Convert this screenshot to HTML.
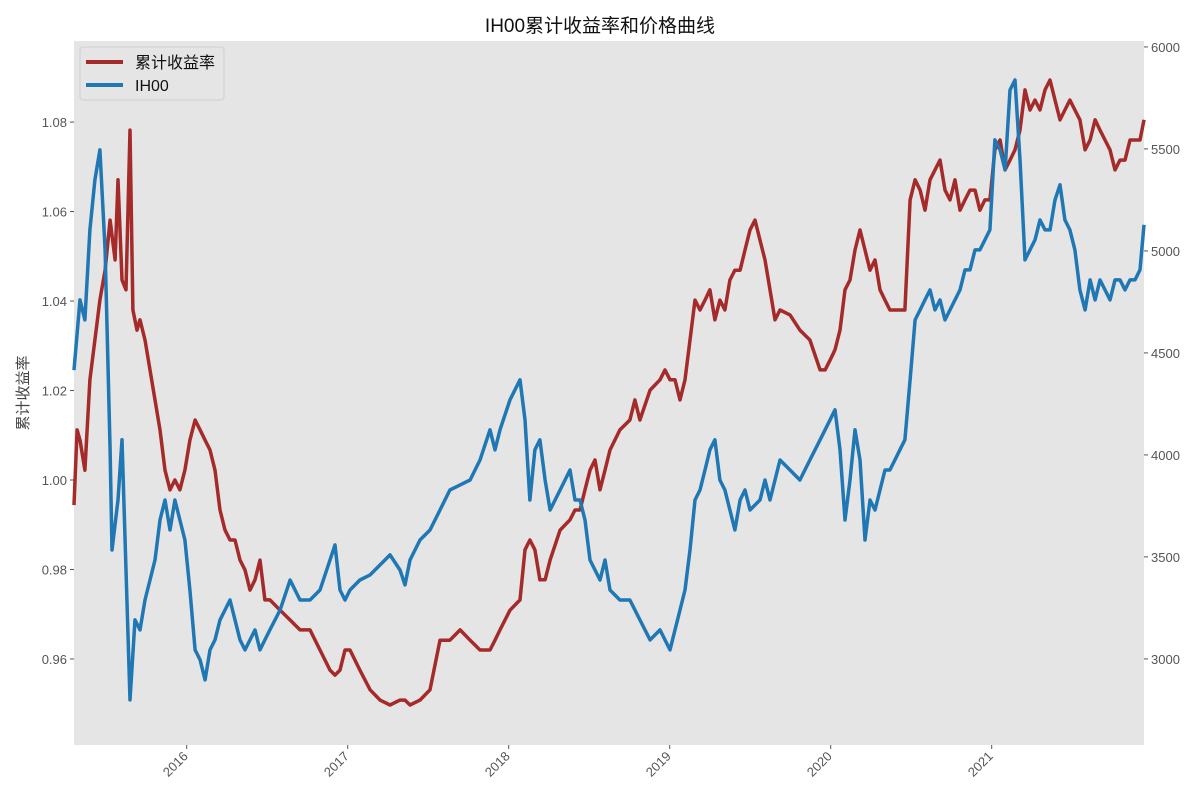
<!DOCTYPE html>
<html><head><meta charset="utf-8"><style>
body{margin:0;background:#fff;}
svg{display:block;font-family:"Liberation Sans","Noto Sans CJK SC",sans-serif;}
</style></head><body>
<svg id="chart" width="1200" height="800" xmlns="http://www.w3.org/2000/svg">
<rect x="74" y="41" width="1070" height="704" fill="#e5e5e5"/>
<text x="600" y="32" text-anchor="middle" font-size="19" fill="#111">IH00累计收益率和价格曲线</text>
<text transform="translate(28,393) rotate(-90)" text-anchor="middle" font-size="15" fill="#444">累计收益率</text>
<g id="axes"></g>
<g id="lines"></g>
<g>
<rect x="80" y="47" width="144" height="53" rx="3" fill="#e5e5e5" stroke="#cfcfcf"/>
<line x1="86" y1="62" x2="123" y2="62" stroke="#a52a2a" stroke-width="4"/>
<text x="135" y="68" font-size="16" fill="#111">累计收益率</text>
<line x1="86" y1="85" x2="123" y2="85" stroke="#1f77b4" stroke-width="4"/>
<text x="135" y="91" font-size="16" fill="#111">IH00</text>
</g>
</svg>
<script>
const leftTicks=[0.96,0.98,1.00,1.02,1.04,1.06,1.08];
const rightTicks=[3000,3500,4000,4500,5000,5500,6000];
const yearTicks=[2016,2017,2018,2019,2020,2021];
const retT=[2015.300,2015.319,2015.337,2015.368,2015.399,2015.430,2015.461,2015.493,2015.524,2015.555,2015.573,2015.598,2015.623,2015.648,2015.666,2015.691,2015.710,2015.741,2015.772,2015.803,2015.834,2015.865,2015.896,2015.927,2015.958,2015.989,2016.020,2016.052,2016.083,2016.114,2016.145,2016.176,2016.207,2016.238,2016.269,2016.300,2016.331,2016.362,2016.393,2016.424,2016.455,2016.486,2016.517,2016.580,2016.642,2016.704,2016.766,2016.828,2016.890,2016.921,2016.952,2016.983,2017.014,2017.076,2017.139,2017.201,2017.263,2017.325,2017.356,2017.387,2017.449,2017.511,2017.573,2017.635,2017.698,2017.760,2017.822,2017.884,2017.915,2017.946,2018.008,2018.070,2018.101,2018.132,2018.163,2018.194,2018.226,2018.257,2018.319,2018.381,2018.412,2018.443,2018.474,2018.505,2018.536,2018.567,2018.598,2018.629,2018.691,2018.753,2018.784,2018.815,2018.878,2018.940,2018.971,2019.002,2019.033,2019.064,2019.095,2019.126,2019.157,2019.188,2019.219,2019.250,2019.281,2019.312,2019.343,2019.374,2019.405,2019.437,2019.468,2019.499,2019.530,2019.561,2019.592,2019.623,2019.654,2019.685,2019.747,2019.809,2019.871,2019.934,2019.965,2019.996,2020.027,2020.058,2020.089,2020.120,2020.151,2020.182,2020.213,2020.244,2020.275,2020.306,2020.337,2020.368,2020.399,2020.430,2020.461,2020.493,2020.524,2020.555,2020.586,2020.617,2020.648,2020.679,2020.710,2020.741,2020.772,2020.803,2020.834,2020.865,2020.896,2020.927,2020.958,2020.989,2021.020,2021.052,2021.083,2021.114,2021.145,2021.176,2021.207,2021.238,2021.269,2021.300,2021.331,2021.362,2021.393,2021.424,2021.455,2021.486,2021.517,2021.548,2021.580,2021.611,2021.642,2021.673,2021.704,2021.735,2021.766,2021.797,2021.828,2021.859,2021.890,2021.921,2021.946];
const retV=[0.9944,1.0112,1.0089,1.0022,1.0224,1.0313,1.0402,1.0469,1.0581,1.0492,1.0671,1.0447,1.0425,1.0782,1.0380,1.0335,1.0358,1.0313,1.0246,1.0179,1.0112,1.0022,0.9978,1.0000,0.9978,1.0022,1.0089,1.0134,1.0112,1.0089,1.0067,1.0022,0.9933,0.9888,0.9866,0.9866,0.9821,0.9799,0.9754,0.9777,0.9821,0.9732,0.9732,0.9709,0.9687,0.9665,0.9665,0.9620,0.9575,0.9564,0.9575,0.9620,0.9620,0.9575,0.9531,0.9508,0.9497,0.9508,0.9508,0.9497,0.9508,0.9531,0.9642,0.9642,0.9665,0.9642,0.9620,0.9620,0.9642,0.9665,0.9709,0.9732,0.9844,0.9866,0.9844,0.9777,0.9777,0.9821,0.9888,0.9911,0.9933,0.9933,0.9978,1.0022,1.0045,0.9978,1.0022,1.0067,1.0112,1.0134,1.0179,1.0134,1.0201,1.0224,1.0246,1.0224,1.0224,1.0179,1.0224,1.0313,1.0402,1.0380,1.0402,1.0425,1.0358,1.0402,1.0380,1.0447,1.0469,1.0469,1.0514,1.0559,1.0581,1.0536,1.0492,1.0425,1.0358,1.0380,1.0369,1.0335,1.0313,1.0246,1.0246,1.0268,1.0291,1.0335,1.0425,1.0447,1.0514,1.0559,1.0514,1.0469,1.0492,1.0425,1.0402,1.0380,1.0380,1.0380,1.0380,1.0626,1.0671,1.0648,1.0603,1.0671,1.0693,1.0715,1.0648,1.0626,1.0671,1.0603,1.0626,1.0648,1.0648,1.0603,1.0626,1.0626,1.0738,1.0760,1.0693,1.0715,1.0738,1.0782,1.0872,1.0827,1.0849,1.0827,1.0872,1.0894,1.0849,1.0805,1.0827,1.0849,1.0827,1.0805,1.0738,1.0760,1.0805,1.0782,1.0760,1.0738,1.0693,1.0715,1.0715,1.0760,1.0760,1.0760,1.0805];
const pxT=[2015.300,2015.337,2015.368,2015.399,2015.430,2015.461,2015.493,2015.524,2015.536,2015.573,2015.598,2015.623,2015.648,2015.679,2015.710,2015.741,2015.772,2015.803,2015.834,2015.865,2015.896,2015.927,2015.958,2015.989,2016.020,2016.052,2016.083,2016.114,2016.145,2016.176,2016.207,2016.238,2016.269,2016.300,2016.331,2016.362,2016.393,2016.424,2016.455,2016.486,2016.517,2016.580,2016.642,2016.704,2016.766,2016.828,2016.890,2016.921,2016.952,2016.983,2017.014,2017.076,2017.139,2017.201,2017.263,2017.325,2017.356,2017.387,2017.449,2017.511,2017.573,2017.635,2017.698,2017.760,2017.822,2017.884,2017.915,2017.946,2018.008,2018.070,2018.101,2018.132,2018.163,2018.194,2018.226,2018.257,2018.319,2018.381,2018.412,2018.443,2018.474,2018.505,2018.536,2018.567,2018.598,2018.629,2018.691,2018.753,2018.815,2018.878,2018.940,2019.002,2019.033,2019.064,2019.095,2019.126,2019.157,2019.188,2019.219,2019.250,2019.281,2019.312,2019.343,2019.374,2019.405,2019.437,2019.468,2019.499,2019.561,2019.592,2019.623,2019.685,2019.747,2019.809,2019.871,2019.934,2019.996,2020.027,2020.058,2020.089,2020.120,2020.151,2020.182,2020.213,2020.244,2020.275,2020.306,2020.337,2020.368,2020.399,2020.430,2020.461,2020.493,2020.524,2020.555,2020.586,2020.617,2020.648,2020.679,2020.710,2020.741,2020.772,2020.803,2020.834,2020.865,2020.896,2020.927,2020.958,2020.989,2021.020,2021.052,2021.083,2021.114,2021.145,2021.176,2021.207,2021.238,2021.269,2021.300,2021.331,2021.362,2021.393,2021.424,2021.455,2021.486,2021.517,2021.548,2021.580,2021.611,2021.642,2021.673,2021.704,2021.735,2021.766,2021.797,2021.828,2021.859,2021.890,2021.921,2021.946];
const pxV=[4416,4760,4662,5103,5348,5495,5005,4025,3534,3779,4074,3436,2799,3191,3142,3289,3387,3485,3681,3779,3632,3779,3681,3583,3338,3044,2995,2897,3044,3093,3191,3240,3289,3191,3093,3044,3093,3142,3044,3093,3142,3240,3387,3289,3289,3338,3485,3559,3338,3289,3338,3387,3412,3461,3510,3436,3363,3485,3583,3632,3730,3828,3853,3877,3975,4123,4025,4123,4270,4368,4172,3779,4025,4074,3877,3730,3828,3926,3779,3779,3681,3485,3436,3387,3485,3338,3289,3289,3191,3093,3142,3044,3142,3240,3338,3534,3779,3828,3926,4025,4074,3877,3828,3730,3632,3779,3828,3730,3779,3877,3779,3975,3926,3877,3975,4074,4172,4221,4025,3681,3877,4123,3975,3583,3779,3730,3828,3926,3926,3975,4025,4074,4368,4662,4711,4760,4809,4711,4760,4662,4711,4760,4809,4907,4907,5005,5005,5054,5103,5544,5495,5397,5789,5838,5446,4956,5005,5054,5152,5103,5103,5250,5324,5152,5103,5005,4809,4711,4858,4760,4858,4809,4760,4858,4858,4809,4858,4858,4907,5128];

const X0=74,X1=1144,Y0=41,Y1=745,T0=2015.30,T1=2021.946;
const L0=0.94077,L1=1.09812,R0=2578,R1=6029;
const xs=t=>X0+(t-T0)/(T1-T0)*(X1-X0);
const yl=v=>Y1-(v-L0)/(L1-L0)*(Y1-Y0);
const yr=v=>Y1-(v-R0)/(R1-R0)*(Y1-Y0);
const NS='http://www.w3.org/2000/svg';
const axes=document.getElementById('axes'),lines=document.getElementById('lines');
function mk(tag,attrs,parent){const e=document.createElementNS(NS,tag);for(const k in attrs)e.setAttribute(k,attrs[k]);parent.appendChild(e);return e;}
leftTicks.forEach(v=>{
  const y=yl(v);
  const tk=mk('line',{x1:X0-4,x2:X0,y1:y,y2:y,stroke:'#555'},axes);
  
  
  const t=mk('text',{x:X0-7,y:y+5,'text-anchor':'end','font-size':13,fill:'#555'},axes);
  t.textContent=v.toFixed(2);
  
  
});
rightTicks.forEach(v=>{
  const y=yr(v);
  const tk=mk('line',{x1:X1,x2:X1+4,y1:y,y2:y,stroke:'#555'},axes);
  
  
  const t=mk('text',{x:X1+7,y:y+5,'font-size':13,fill:'#555'},axes);
  t.textContent=v;
  
  
});
yearTicks.forEach(v=>{
  const x=xs(v);
  const tk=mk('line',{x1:x,x2:x,y1:Y1,y2:Y1+4,stroke:'#555'},axes);
  
  
  const t=mk('text',{x:x+2,y:Y1+12,'text-anchor':'end','font-size':13,fill:'#555',transform:`rotate(-45 ${x+2} ${Y1+12})`},axes);
  t.textContent=v;
  
  
});
const ret=mk('polyline',{points:retT.map((t,i)=>xs(t).toFixed(1)+','+yl(retV[i]).toFixed(1)).join(' '),fill:'none',stroke:'#a52a2a','stroke-width':3.5,'stroke-linejoin':'round'},lines);


const px=mk('polyline',{points:pxT.map((t,i)=>xs(t).toFixed(1)+','+yr(pxV[i]).toFixed(1)).join(' '),fill:'none',stroke:'#1f77b4','stroke-width':3.5,'stroke-linejoin':'round'},lines);


</script>
</body></html>
